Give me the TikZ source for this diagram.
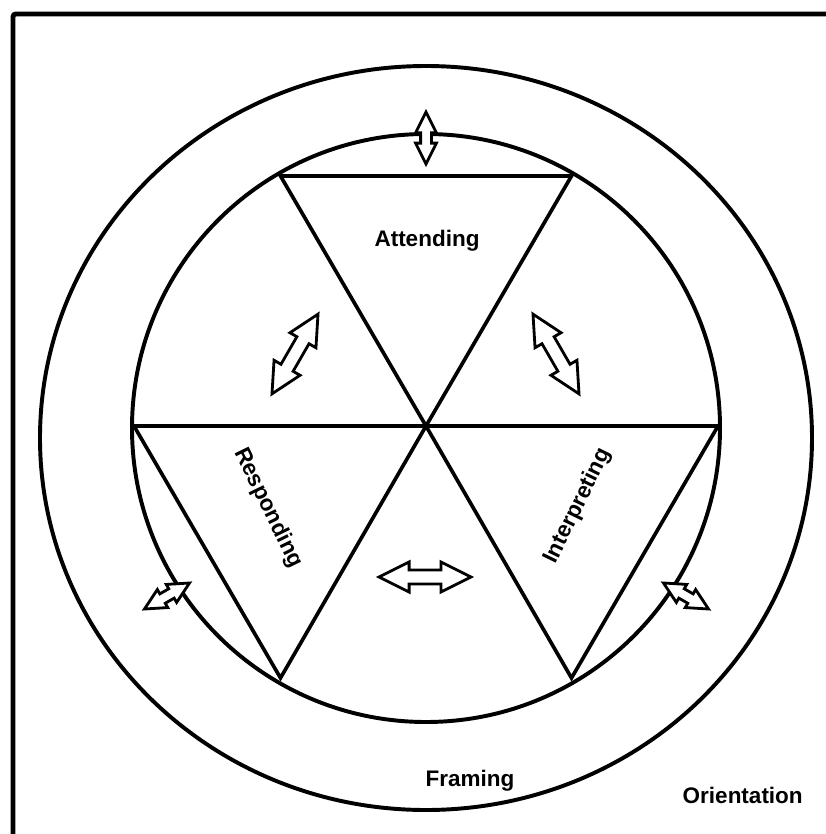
\documentclass[tikz,border=0pt]{standalone}
\usepackage{fontspec}
\setmainfont{Liberation Sans}
\usetikzlibrary{shapes.arrows}

\begin{document}
\begin{tikzpicture}[x=0.025cm, y=-0.025cm, line join=miter,
  lbl/.style={font=\bfseries\fontsize{16}{19}\selectfont, inner sep=0pt},
  ring/.style={draw, line width=2.8pt},
  tri/.style={draw, line width=2.6pt},
  bigarr/.style={double arrow, draw, fill=white, line width=2pt, inner sep=0.14cm, minimum height=2.3cm,
    double arrow head extend=0.2cm, double arrow tip angle=53},
  smallarr/.style={bigarr, inner sep=0.1cm, minimum height=1.3cm, double arrow head extend=0.125cm}]
\useasboundingbox (0,0) rectangle (826,834);
\draw[line width=3.5pt, rounded corners=2pt] (13,14) rectangle (860,870);
% circles
\coordinate (c) at (426,426);
\draw[ring] (426,438) ellipse[x radius=386, y radius=372];
\draw[ring] (426,428) circle[radius=294];
% hexagon corners
\coordinate (ul) at (280.5,176);
\coordinate (ur) at (571.5,176);
\coordinate (l)  at (134,426);
\coordinate (r)  at (718,426);
\coordinate (ll) at (280.5,678);
\coordinate (lr) at (571.5,678);
\draw[tri] (ul) -- (ur) -- (c) -- cycle;
\draw[tri] (l) -- (c) -- (ll) -- cycle;
\draw[tri] (c) -- (r) -- (lr) -- cycle;
% labels
\node[lbl] (att) at (427,241) {Attending};
\node[lbl, rotate=-64] (resp) at (268,508) {Responding};
\node[lbl, rotate=64] (interp) at (578,506) {Interpreting};
\node[lbl] (fram) at (470,781) {Framing};
\node[lbl, anchor=base east] (orient) at (803,803) {Orientation};
% arrows
\node[smallarr, rotate=90] (atop) at (426,138) {};
\node[bigarr, rotate=60] (aul) at (295,354) {};
\node[bigarr, rotate=-60] (aur) at (556,354) {};
\node[bigarr] (abot) at (425,577) {};
\node[smallarr, rotate=30] (all) at (167,596) {};
\node[smallarr, rotate=-30] (alr) at (686,596) {};
\end{tikzpicture}
\end{document}
